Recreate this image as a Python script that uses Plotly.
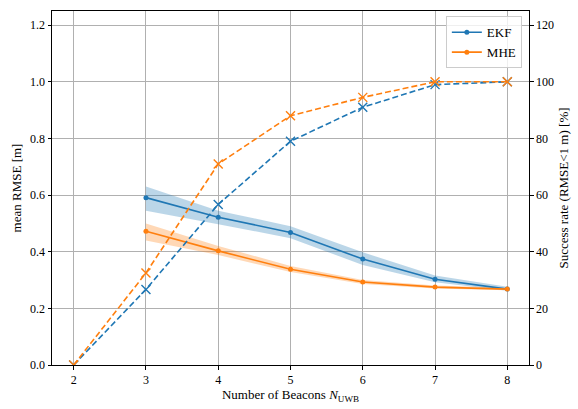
import plotly.graph_objects as go

beacons = [3, 4, 5, 6, 7, 8]
ekf_rmse = [0.591, 0.522, 0.468, 0.374, 0.303, 0.268]
ekf_upper = [0.630, 0.545, 0.490, 0.398, 0.316, 0.276]
ekf_lower = [0.545, 0.497, 0.448, 0.353, 0.292, 0.262]
mhe_rmse = [0.472, 0.403, 0.338, 0.293, 0.275, 0.268]
mhe_upper = [0.500, 0.420, 0.350, 0.300, 0.281, 0.273]
mhe_lower = [0.440, 0.388, 0.328, 0.286, 0.270, 0.264]

beacons_sr = [2, 3, 4, 5, 6, 7, 8]
ekf_success = [0, 26.7, 56.7, 79.0, 91.0, 99.0, 100]
mhe_success = [0, 32.5, 71.0, 88.0, 94.5, 100, 100]

BLUE = "#1f77b4"
ORANGE = "#ff7f0e"
FONT = "Liberation Serif, Times New Roman, serif"

fig = go.Figure()

def band(x, lo, hi, color):
    fig.add_trace(go.Scatter(x=x + x[::-1], y=hi + lo[::-1], fill="toself",
                             fillcolor=color, line=dict(width=0), mode="lines",
                             showlegend=False, hoverinfo="skip", yaxis="y"))

band(beacons, ekf_lower, ekf_upper, "rgba(31,119,180,0.3)")
band(beacons, mhe_lower, mhe_upper, "rgba(255,127,14,0.3)")

fig.add_trace(go.Scatter(x=beacons_sr, y=ekf_success, mode="lines+markers", yaxis="y2",
                         line=dict(color=BLUE, width=1.6, dash="6px,3px"),
                         marker=dict(symbol="x-thin", size=9, line=dict(color=BLUE, width=1.4)),
                         showlegend=False))
fig.add_trace(go.Scatter(x=beacons_sr, y=mhe_success, mode="lines+markers", yaxis="y2",
                         line=dict(color=ORANGE, width=1.6, dash="6px,3px"),
                         marker=dict(symbol="x-thin", size=9, line=dict(color=ORANGE, width=1.4)),
                         showlegend=False))

fig.add_trace(go.Scatter(x=beacons, y=ekf_rmse, mode="lines+markers", name="EKF",
                         line=dict(color=BLUE, width=1.6), marker=dict(size=5, color=BLUE)))
fig.add_trace(go.Scatter(x=beacons, y=mhe_rmse, mode="lines+markers", name="MHE",
                         line=dict(color=ORANGE, width=1.6), marker=dict(size=5, color=ORANGE)))

fig.update_layout(
    width=578, height=409,
    margin=dict(l=52, r=48, t=10, b=42),
    plot_bgcolor="white", paper_bgcolor="white",
    font=dict(family=FONT, size=12, color="black"),
    xaxis=dict(range=[1.7, 8.3], tickvals=[2, 3, 4, 5, 6, 7, 8], showgrid=True,
               gridcolor="#b0b0b0", gridwidth=1, showline=True, linecolor="black",
               linewidth=1, mirror=True, ticks="outside", ticklen=3.5, tickcolor="black",
               zeroline=False, tickfont=dict(size=12),
               title=dict(text="Number of Beacons <i>N</i><sub>UWB</sub>", standoff=3,
                          font=dict(size=13))),
    yaxis=dict(range=[0, 1.25], tickvals=[0, 0.2, 0.4, 0.6, 0.8, 1.0, 1.2], tickformat=".1f",
               showgrid=True, gridcolor="#b0b0b0", gridwidth=1, showline=True,
               linecolor="black", linewidth=1, ticks="outside", ticklen=3.5,
               tickcolor="black", zeroline=False, tickfont=dict(size=12),
               title=dict(text="mean RMSE [m]", standoff=5, font=dict(size=13))),
    yaxis2=dict(range=[0, 125], tickvals=[0, 20, 40, 60, 80, 100, 120], overlaying="y",
                side="right", showgrid=False, showline=True, linecolor="black",
                linewidth=1, ticks="outside", ticklen=3.5, tickcolor="black",
                zeroline=False, tickfont=dict(size=12),
                title=dict(text="Success rate (RMSE&lt;1 m) [%]", standoff=5,
                           font=dict(size=13))),
    legend=dict(x=0.985, y=0.985, xanchor="right", yanchor="top",
                bgcolor="rgba(255,255,255,0.8)", bordercolor="#cccccc", borderwidth=1,
                font=dict(size=13), tracegroupgap=0),
)

fig.write_html("out.html")
